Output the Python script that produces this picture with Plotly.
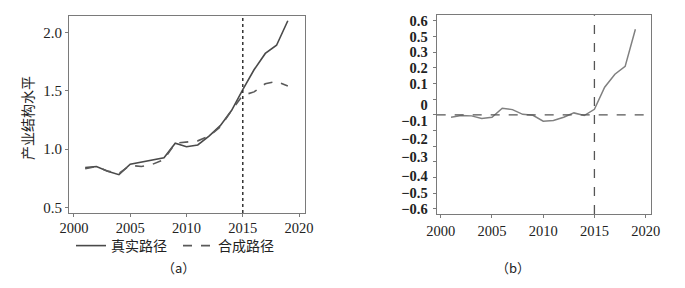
import plotly.graph_objects as go

years = list(range(2001, 2020))
true_path = [0.84, 0.85, 0.81, 0.78, 0.87, 0.89, 0.91, 0.925, 1.05, 1.02, 1.035, 1.11, 1.20, 1.33,
             1.51, 1.68, 1.82, 1.89, 2.10]
synth_path = [0.83, 0.85, 0.81, 0.79, 0.86, 0.85, 0.87, 0.91, 1.05, 1.06, 1.07, 1.11, 1.19, 1.33,
              1.46, 1.49, 1.56, 1.58, 1.54]
gap = [-0.015, -0.004, -0.006, -0.023, -0.015, 0.043, 0.034, 0.004, -0.002, -0.04, -0.036, -0.015,
       0.013, -0.004, 0.036, 0.177, 0.26, 0.31, 0.547]

treat_year = 2015
x_ticks = [2000, 2005, 2010, 2015, 2020]
left_y_ticks = [0.5, 1.0, 1.5, 2.0]
right_tick_marks = [0.6, 0.5, 0.4, 0.3, 0.2, 0.1, 0, -0.1, -0.2, -0.3, -0.4, -0.5, -0.6]
right_label_pos = [0.6, 0.5, 0.4, 0.3, 0.2, 0.065, -0.04, -0.155, -0.27, -0.39, -0.5, -0.6]
right_label_text = ["0.6", "0.5", "0.3", "0.2", "0.1", "0", "−0.1", "−0.2", "−0.3", "−0.4", "−0.5", "−0.6"]

serif = "Liberation Serif"
cjk = "Noto Sans CJK SC"
frame = "#7a7a7a"

fig = go.Figure()
fig.add_trace(go.Scatter(x=years, y=true_path, mode="lines", name="真实路径", legend="legend",
                         line=dict(color="#4a4a4a", width=1.6), xaxis="x", yaxis="y"))
fig.add_trace(go.Scatter(x=years, y=synth_path, mode="lines", name="合成路径", legend="legend2",
                         line=dict(color="#5a5a5a", width=1.6, dash="dash"), xaxis="x", yaxis="y"))
fig.add_trace(go.Scatter(x=years, y=gap, mode="lines", showlegend=False,
                         line=dict(color="#808080", width=1.5), xaxis="x2", yaxis="y2"))
fig.add_trace(go.Scatter(x=[2000], y=[0], mode="markers", showlegend=False, hoverinfo="skip",
                         marker=dict(opacity=0), xaxis="x2", yaxis="y3"))

axis_common = dict(showline=True, linecolor=frame, linewidth=1, mirror=True, showgrid=False,
                   zeroline=False, ticks="outside", ticklen=3, tickcolor=frame, automargin=False)

legend_common = dict(orientation="h", y=1 - 246 / 288, xanchor="left", yanchor="middle",
                     font=dict(family=cjk, size=14, color="#222"), bgcolor="rgba(0,0,0,0)",
                     itemwidth=30)

fig.update_layout(
    template="none",
    width=685, height=288, margin=dict(l=0, r=0, t=0, b=0, autoexpand=False),
    paper_bgcolor="white", plot_bgcolor="white",
    font=dict(family=serif, size=14, color="#222"),
    xaxis=dict(domain=[0.1007, 0.4453], range=[1999.56, 2020.53], tickvals=x_ticks,
               tickfont=dict(family=serif, size=14.5, color="#222"), anchor="y",
               ticklabelstandoff=-2, **axis_common),
    yaxis=dict(domain=[0.26, 0.944], range=[0.45, 2.14], tickvals=left_y_ticks, tickformat=".1f",
               tickfont=dict(family=serif, size=15, color="#222"), anchor="x", **axis_common),
    xaxis2=dict(domain=[0.6375, 0.950], range=[1999.6, 2020.5], tickvals=x_ticks,
                tickfont=dict(family=serif, size=14.5, color="#222"), anchor="y2",
                ticklabelstandoff=1, **axis_common),
    yaxis2=dict(domain=[0.257, 0.947], range=[-0.632, 0.636], tickvals=right_tick_marks,
                showticklabels=False, anchor="x2", **axis_common),
    yaxis3=dict(overlaying="y2", range=[-0.632, 0.636], tickvals=right_label_pos,
                ticktext=right_label_text, ticks="", showgrid=False, zeroline=False,
                showline=False, anchor="x2", side="left", automargin=False, ticklabelstandoff=8,
                tickfont=dict(family=serif, size=14.5, color="#222", weight="bold")),
    legend=dict(x=71 / 685, **legend_common),
    legend2=dict(x=178 / 685, **legend_common),
    showlegend=True,
)

fig.add_shape(type="line", xref="x", yref="y domain", x0=treat_year, x1=treat_year, y0=0, y1=1,
              line=dict(color="#333", width=1.5, dash="dot"))
fig.add_shape(type="line", xref="x2", yref="y2 domain", x0=treat_year, x1=treat_year, y0=0, y1=1,
              line=dict(color="#555", width=1.3, dash="dash"))
fig.add_shape(type="line", xref="x2 domain", yref="y2", x0=0, x1=1, y0=0, y1=0,
              line=dict(color="#555", width=1.3, dash="dash"))

fig.add_annotation(text="产业结构水平", x=27 / 685, y=1 - 118 / 288, xref="paper", yref="paper",
                   textangle=-90, xanchor="center", yanchor="middle",
                   showarrow=False, font=dict(family=cjk, size=14, color="#222"))
fig.add_annotation(text="（a）", x=178 / 685, y=1 - 267 / 288, xref="paper", yref="paper",
                   xanchor="center", yanchor="middle",
                   showarrow=False, font=dict(family=cjk, size=13, color="#222"))
fig.add_annotation(text="（b）", x=513 / 685, y=1 - 267 / 288, xref="paper", yref="paper",
                   xanchor="center", yanchor="middle",
                   showarrow=False, font=dict(family=cjk, size=13, color="#222"))

fig.write_html("out.html", config={"displayModeBar": False},
               post_script="document.body.style.margin='0';document.body.style.overflow='hidden';")
